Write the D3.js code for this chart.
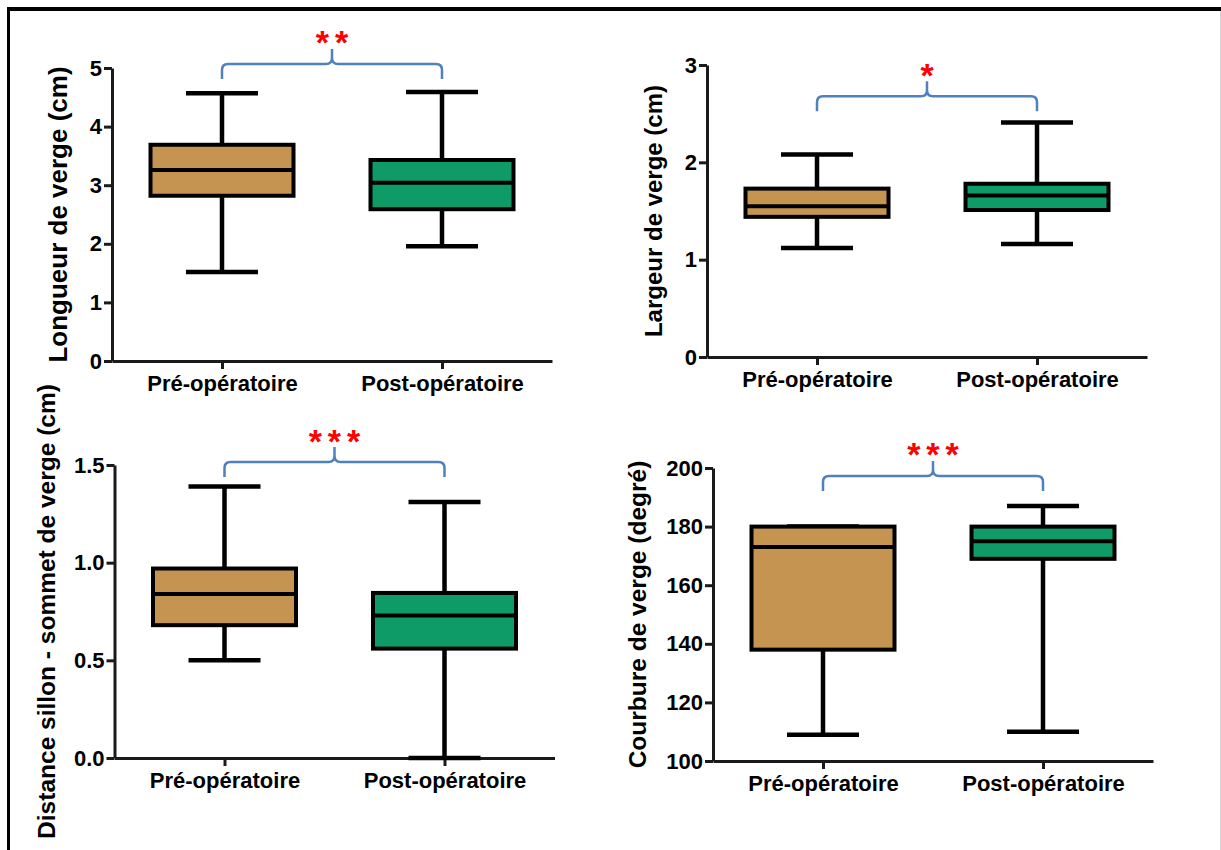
<!DOCTYPE html>
<html>
<head>
<meta charset="utf-8">
<script src="https://cdn.jsdelivr.net/npm/d3@7"></script>
<style>
    body { margin: 0; background: #fff; }
    svg { display: block; font-family: "Liberation Sans", Arial, sans-serif; }
</style>
</head>
<body>
<div id="chart"></div>
<script>
// Groups shown on every panel
const groups = ['Pré-opératoire', 'Post-opératoire'];
const groupColors = ['#c49450', '#0f9b67'];

// Box stats per group: [min, Q1, median, Q3, max]
const longueur = [[1.52, 2.82, 3.26, 3.69, 4.57], [1.96, 2.59, 3.04, 3.43, 4.59]];
const largeur = [[1.12, 1.44, 1.55, 1.73, 2.08], [1.16, 1.51, 1.66, 1.78, 2.41]];
const distance = [[0.50, 0.68, 0.84, 0.97, 1.39], [0.00, 0.56, 0.73, 0.845, 1.31]];
const courbure = [[109, 138, 173, 180, 180], [110, 169, 175, 180, 187]];
const panelStats = [longueur, largeur, distance, courbure];

const yLabels = [
    'Longueur de verge (cm)',
    'Largeur de verge (cm)',
    'Distance sillon - sommet de verge (cm)',
    'Courbure de verge (degré)'
];
const yDomains = [[0, 5], [0, 3], [0, 1.5], [100, 200]];
const yTicks = [[0, 1, 2, 3, 4, 5], [0, 1, 2, 3], [0, 0.5, 1, 1.5], [100, 120, 140, 160, 180, 200]];
const yFormats = ['d', 'd', '.1f', 'd'];

// significance marks and the level (in data units) of each brace
const stars = ['**', '*', '***', '***'];
const braceLevels = [5.07, 2.68, 1.515, 197.3];

// panel placement on the page
const layout = [
    { x0: 112, top: 68, bottom: 361, titleDx: 45, titleSize: 26 },
    { x0: 707, top: 65, bottom: 357, titleDx: 45, titleSize: 24 },
    { x0: 114.5, top: 465, bottom: 758, titleDx: 60, titleSize: 24.5 },
    { x0: 713, top: 468, bottom: 761, titleDx: 67, titleSize: 24.5 }
];

const W = 1221, H = 850;
const plotWidth = 440;
const boxWidth = 143;
const capWidth = 72;

const svg = d3.select('#chart')
    .append('svg')
    .attr('width', W)
    .attr('height', H);

// outer frame (top and left black, faint right edge)
svg.append('line').attr('x1', 7).attr('x2', W).attr('y1', 9).attr('y2', 9)
    .attr('stroke', '#000').attr('stroke-width', 4);
svg.append('line').attr('x1', 8.5).attr('x2', 8.5).attr('y1', 7).attr('y2', H)
    .attr('stroke', '#000').attr('stroke-width', 3);
svg.append('line').attr('x1', W - 0.5).attr('x2', W - 0.5).attr('y1', 11).attr('y2', H)
    .attr('stroke', '#d4d4d4').attr('stroke-width', 1);

// curly brace between two x positions
function bracePath(x1, x2, y, leg, peak) {
    const xm = (x1 + x2) / 2;
    const r = 6;
    return `M${x1},${y + leg} L${x1},${y + r} Q${x1},${y} ${x1 + r},${y}` +
        ` L${xm - r},${y} Q${xm},${y} ${xm},${y - r} L${xm},${y - peak}` +
        ` M${xm},${y - r} Q${xm},${y} ${xm + r},${y}` +
        ` L${x2 - r},${y} Q${x2},${y} ${x2},${y + r} L${x2},${y + leg}`;
}

layout.forEach((p, i) => {
    const g = svg.append('g');

    const x = d3.scalePoint()
        .domain(groups)
        .range([p.x0, p.x0 + plotWidth])
        .padding(0.5);

    const y = d3.scaleLinear()
        .domain(yDomains[i])
        .range([p.bottom, p.top]);

    // Y axis
    const yAxis = g.append('g')
        .attr('transform', `translate(${p.x0},0)`)
        .call(d3.axisLeft(y)
            .tickValues(yTicks[i])
            .tickFormat(d3.format(yFormats[i]))
            .tickSize(8)
            .tickSizeOuter(0)
            .tickPadding(2));

    // X axis
    const xAxis = g.append('g')
        .attr('transform', `translate(0,${p.bottom})`)
        .call(d3.axisBottom(x)
            .tickSize(8)
            .tickSizeOuter(0)
            .tickPadding(6));

    [yAxis, xAxis].forEach(ax => {
        ax.select('.domain').attr('stroke', '#1a1a1a').attr('stroke-width', 3);
        ax.selectAll('.tick line').attr('stroke', '#1a1a1a').attr('stroke-width', 3);
        ax.selectAll('.tick text')
            .attr('fill', '#000')
            .attr('font-family', '"Liberation Sans", Arial, sans-serif')
            .attr('font-weight', 'bold');
    });
    yAxis.selectAll('.tick text').attr('font-size', 22);
    xAxis.selectAll('.tick text').attr('font-size', 22);

    // Y axis title
    g.append('text')
        .attr('transform', `translate(${p.x0 - p.titleDx},${(p.top + p.bottom) / 2}) rotate(-90)`)
        .attr('text-anchor', 'middle')
        .attr('font-size', p.titleSize)
        .attr('font-weight', 'bold')
        .attr('fill', '#000')
        .text(yLabels[i]);

    // boxes and whiskers
    panelStats[i].forEach((s, j) => {
        const cx = x(groups[j]);
        const [mn, q1, med, q3, mx] = s;
        const bg = g.append('g');

        // whiskers
        bg.append('line')
            .attr('x1', cx).attr('x2', cx)
            .attr('y1', y(mx)).attr('y2', y(q3))
            .attr('stroke', '#000').attr('stroke-width', 4.5);
        bg.append('line')
            .attr('x1', cx).attr('x2', cx)
            .attr('y1', y(q1)).attr('y2', y(mn))
            .attr('stroke', '#000').attr('stroke-width', 4.5);
        [mn, mx].forEach(v => {
            bg.append('line')
                .attr('x1', cx - capWidth / 2).attr('x2', cx + capWidth / 2)
                .attr('y1', y(v)).attr('y2', y(v))
                .attr('stroke', '#000').attr('stroke-width', 4.5);
        });

        // box
        bg.append('rect')
            .attr('x', cx - boxWidth / 2)
            .attr('y', y(q3))
            .attr('width', boxWidth)
            .attr('height', y(q1) - y(q3))
            .attr('fill', groupColors[j])
            .attr('stroke', '#000')
            .attr('stroke-width', 4);

        // median
        bg.append('line')
            .attr('x1', cx - boxWidth / 2).attr('x2', cx + boxWidth / 2)
            .attr('y1', y(med)).attr('y2', y(med))
            .attr('stroke', '#000').attr('stroke-width', 4);
    });

    // significance brace
    const by = y(braceLevels[i]);
    const x1 = x(groups[0]), x2 = x(groups[1]);
    g.append('path')
        .attr('d', bracePath(x1, x2, by, 15, 15))
        .attr('fill', 'none')
        .attr('stroke', '#4f81bd')
        .attr('stroke-width', 2.5);

    g.append('text')
        .attr('x', (x1 + x2) / 2 + 3)
        .attr('y', by - 9.5)
        .attr('text-anchor', 'middle')
        .attr('font-size', 34)
        .attr('font-weight', 'bold')
        .attr('letter-spacing', 6)
        .attr('fill', '#ff0000')
        .text(stars[i]);
});
</script>
</body>
</html>
